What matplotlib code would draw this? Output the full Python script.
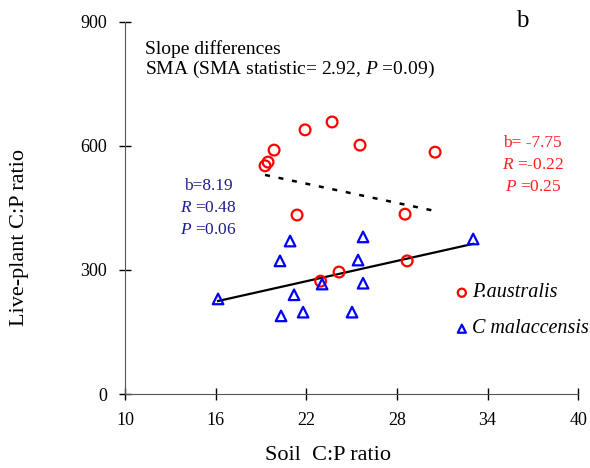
import matplotlib
matplotlib.use("Agg")
import numpy as np
import matplotlib.pyplot as plt

plt.rcParams['font.family'] = ['Liberation Serif', 'DejaVu Serif']
plt.rcParams['mathtext.fontset'] = 'custom'
plt.rcParams['mathtext.rm'] = 'Liberation Serif'
plt.rcParams['mathtext.it'] = 'Liberation Serif:italic'

# P. australis (red circles)
pa_x = [19.27, 19.47, 19.87, 21.92, 23.71, 25.56, 30.53, 21.39, 28.54, 28.68, 24.17, 22.95]
pa_y = [552, 561, 590, 639, 658, 602, 585, 433, 435, 322, 295, 273]
pa_slope, pa_int = -7.75, 679.3

# C. malaccensis (blue triangles)
cm_x = [16.16, 20.93, 25.76, 33.05, 20.26, 25.43, 23.05, 25.76, 21.19, 21.79, 20.33, 25.03]
cm_y = [230, 370, 380, 375, 322, 324, 266, 268, 240, 198, 189, 198]
cm_slope, cm_int = 8.19, 92.6

xticks = [10, 16, 22, 28, 34, 40]
yticks = [0, 300, 600, 900]

fig = plt.figure(figsize=(5.9, 4.68), dpi=100)
ax = fig.add_axes([0.2119, 0.1581, 0.768, 0.795])

# fitted lines
xs = np.array([min(pa_x), max(pa_x)])
ax.plot(xs, pa_int + pa_slope * xs, color='black', ls=(0, (2, 3.5)), lw=1.8)
xs = np.array([min(cm_x), max(cm_x)])
ax.plot(xs, cm_int + cm_slope * xs, color='black', lw=1.6)

ax.scatter(pa_x, pa_y, s=60, facecolors='none', edgecolors='#ff0000', linewidths=1.6, zorder=3)
ax.scatter(cm_x, cm_y, s=58, marker='^', facecolors='none', edgecolors='#0000ff', linewidths=1.6, zorder=3)

ax.set_xlim(10, 40)
ax.set_ylim(0, 900)
ax.set_xticks(xticks)
ax.set_yticks(yticks)
ax.tick_params(direction='inout', length=8, width=1, labelsize=13)
ax.tick_params(axis='x', pad=9)
ax.tick_params(axis='y', pad=9)
for s in ['top', 'right']:
    ax.spines[s].set_visible(False)
for s in ['left', 'bottom']:
    ax.spines[s].set_color('#555555')

fig.text(328 / 590, 1 - 455 / 468, 'Soil  C:P ratio', fontsize=16, ha='center', va='center')
fig.text(20 / 590, 1 - 238 / 468, 'Live-plant C:P ratio', fontsize=16, rotation=90,
         ha='center', va='center')

ax.text(11.32, 835, 'Slope differences', fontsize=14, va='center')
ax.text(11.32, 786, r'SMA (SMA statistic= 2.92, $P$ =0.09)', fontsize=14, va='center')
ax.text(36.3, 902, 'b', fontsize=18, ha='center', va='center')

red = '#ff2020'
ax.text(37.0, 607, 'b= -7.75', color=red, fontsize=12.5, ha='center', va='center')
ax.text(37.0, 554, r'$R$ =-0.22', color=red, fontsize=12.5, ha='center', va='center')
ax.text(37.0, 501, r'$P$ =0.25', color=red, fontsize=12.5, ha='center', va='center')

navy = '#1f1f8a'
ax.text(15.5, 504, 'b=8.19', color=navy, fontsize=12.5, ha='center', va='center')
ax.text(15.5, 451, r'$R$ =0.48', color=navy, fontsize=12.5, ha='center', va='center')
ax.text(15.5, 396, r'$P$ =0.06', color=navy, fontsize=12.5, ha='center', va='center')

# legend drawn as markers with labels
ax.scatter([32.3], [245], s=34, facecolors='none', edgecolors='#ff0000', linewidths=1.6, clip_on=False)
ax.text(33.0, 245, 'P.australis', fontsize=14.5, style='italic', va='center')
ax.scatter([32.3], [158], s=34, marker='^', facecolors='none', edgecolors='#0000ff', linewidths=1.6, clip_on=False)
ax.text(33.0, 158, 'C malaccensis', fontsize=14.5, style='italic', va='center')

fig.savefig('out.png', dpi=100)
